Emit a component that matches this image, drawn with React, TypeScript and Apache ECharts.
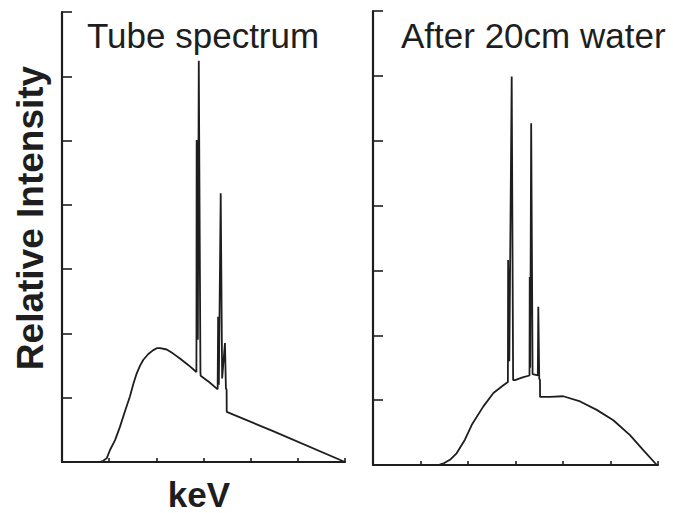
import React, { useEffect, useRef } from "react";
import * as echarts from "echarts";

// Tube spectrum (keV, relative intensity)
const tubeSpectrum: [number, number][] = [
  [16.1, 0], [17.5, 0.02], [19.0, 0.06], [20.4, 0.19], [22.5, 0.34], [24.6, 0.55],
  [26.7, 0.79], [28.8, 1.02], [30.3, 1.22], [31.7, 1.38], [33.1, 1.5], [34.5, 1.59],
  [36.6, 1.68], [38.7, 1.74], [40.2, 1.77], [41.6, 1.77], [44.4, 1.75], [47.0, 1.69],
  [50.0, 1.61], [53.5, 1.51], [57.0, 1.4], [57.1, 5.01], [57.6, 1.9], [58.0, 6.24],
  [58.7, 1.4], [58.8, 1.34], [59.2, 1.33], [62.5, 1.24], [66.0, 1.13], [66.2, 2.26],
  [66.5, 1.2], [67.3, 4.18], [67.9, 1.3], [69.1, 1.85], [69.5, 1.15], [69.8, 1.12],
  [69.85, 0.78], [89.5, 0.48], [120, 0],
];

// Spectrum after 20 cm of water
const afterWater: [number, number][] = [
  [27.5, 0], [30.0, 0.03], [32.4, 0.08], [35.2, 0.18], [38.7, 0.39], [41.6, 0.62],
  [46.4, 0.9], [50.7, 1.11], [54.9, 1.23], [56.8, 1.28], [56.9, 3.16], [57.4, 1.6],
  [58.4, 5.99], [59.0, 1.31], [59.8, 1.31], [63.0, 1.35], [65.9, 1.38], [66.0, 2.9],
  [66.2, 1.5], [66.6, 5.27], [67.2, 1.4], [69.4, 1.38], [69.6, 2.44], [70.0, 1.33],
  [70.3, 1.31], [70.35, 1.05], [74.5, 1.05], [80.1, 1.06], [87.2, 0.98], [94.2, 0.85],
  [101.2, 0.69], [108.2, 0.46], [113.8, 0.23], [119.5, 0],
];

const panelTitles = ["Tube spectrum", "After 20cm water"];
const yAxisTitle = "Relative Intensity";
const xAxisTitle = "keV";

const INK = "#1e1e1e";
const FONT = "'Liberation Sans', Arial, Helvetica, sans-serif";

export default function App() {
  const ref = useRef<HTMLDivElement>(null);

  useEffect(() => {
    if (!ref.current) return;
    const chart = echarts.init(ref.current, undefined, { renderer: "svg" });

    const mkX = (gi: number) => ({
      gridIndex: gi,
      type: "value" as const,
      min: 0,
      max: 120,
      interval: 20,
      axisLine: { lineStyle: { color: INK, width: 2.2 } },
      axisTick: { inside: true, length: 4, lineStyle: { color: INK, width: 1.6 } },
      axisLabel: { show: false },
      splitLine: { show: false },
    });
    const mkY = (gi: number) => ({
      gridIndex: gi,
      type: "value" as const,
      min: 0,
      max: 7,
      interval: 1,
      axisLine: { show: true, lineStyle: { color: INK, width: 2.2 } },
      axisTick: { show: true, inside: true, length: 10, lineStyle: { color: INK, width: 1.6 } },
      axisLabel: { show: false },
      splitLine: { show: false },
    });
    const mkSeries = (gi: number, data: [number, number][]) => ({
      type: "line" as const,
      xAxisIndex: gi,
      yAxisIndex: gi,
      data,
      showSymbol: false,
      symbol: "none",
      lineStyle: { color: INK, width: 1.8 },
      silent: true,
    });
    const txt = (
      text: string,
      x: number,
      y: number,
      size: number,
      weight: string,
      align: string,
      rotation = 0
    ) => ({
      type: "text" as const,
      x,
      y,
      rotation,
      style: {
        text,
        fontSize: size,
        fontWeight: weight,
        fontFamily: FONT,
        fill: INK,
        align,
        verticalAlign: "middle",
        textAlign: align,
        textVerticalAlign: "middle",
      },
    });

    chart.setOption({
      animation: false,
      backgroundColor: "#fff",
      grid: [
        { left: 62, top: 12, width: 283, height: 450 },
        { left: 373, top: 11, width: 285, height: 454 },
      ],
      xAxis: [mkX(0), mkX(1)],
      yAxis: [mkY(0), mkY(1)],
      series: [mkSeries(0, tubeSpectrum), mkSeries(1, afterWater)],
      graphic: [
        txt(panelTitles[0], 87, 35, 35, "normal", "left"),
        txt(panelTitles[1], 401, 35, 35, "normal", "left"),
        txt(yAxisTitle, 30, 218, 37, "bold", "center", Math.PI / 2),
        txt(xAxisTitle, 199, 494, 35, "bold", "center"),
      ],
    });

    return () => chart.dispose();
  }, []);

  return (
    <div
      ref={ref}
      style={{ position: "fixed", left: 0, top: 0, width: 673, height: 513 }}
    />
  );
}
